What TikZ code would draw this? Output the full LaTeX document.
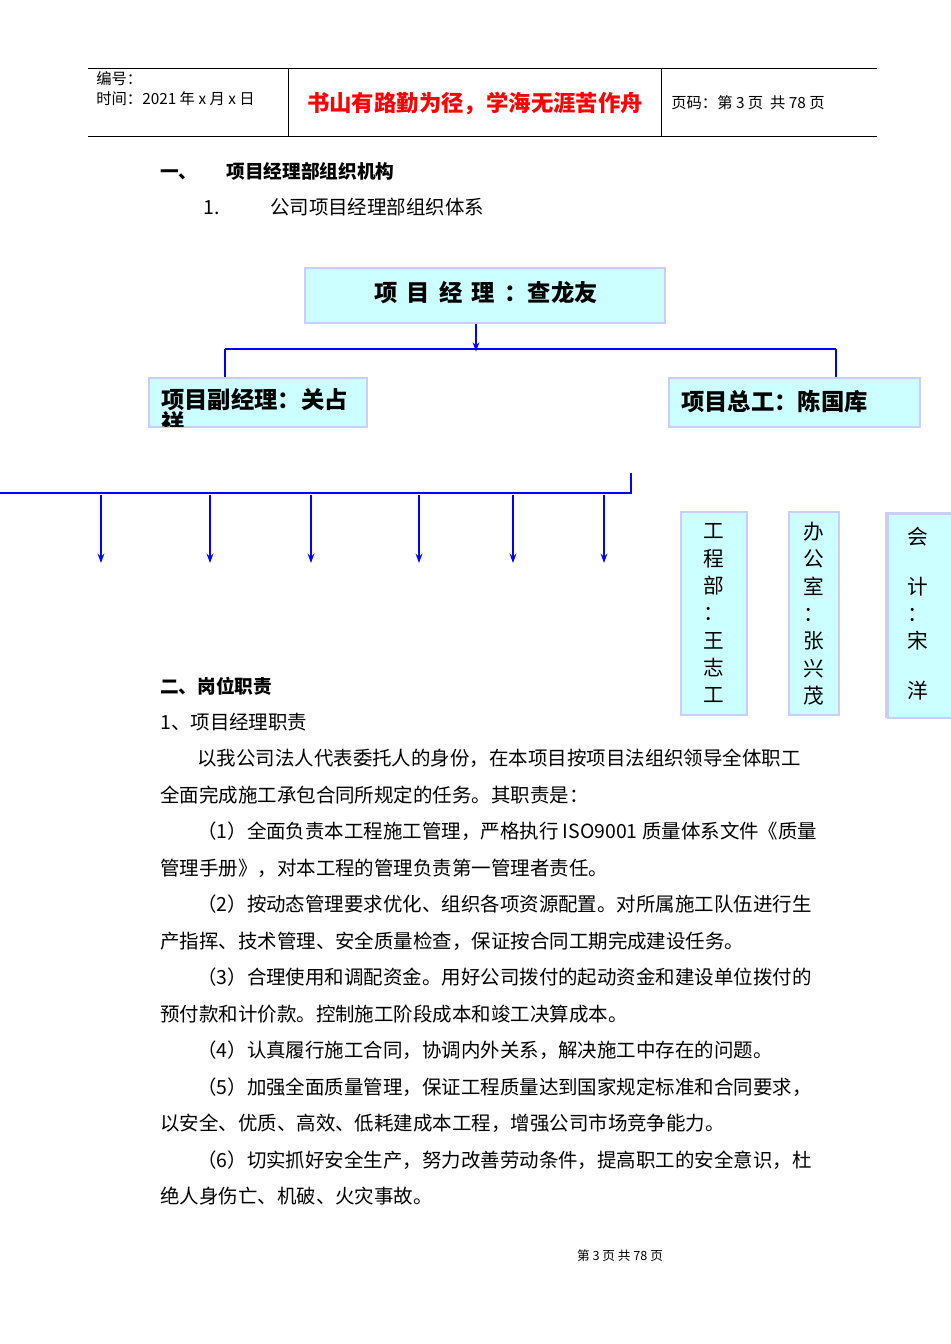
\documentclass[tikz,border=0pt]{standalone}
\usepackage{fontspec}
\setmainfont{Liberation Sans}
\newfontfamily\cjk{Noto Sans CJK SC}
\usetikzlibrary{arrows.meta}
\definecolor{boxfill}{HTML}{CCFFFF}
\definecolor{boxline}{HTML}{CCCCFF}
\definecolor{lineblue}{HTML}{0000FF}
\begin{document}
\begin{tikzpicture}[x=0.75pt,y=-0.75pt,
  orgbox/.style={draw=boxline,fill=boxfill,line width=0.8pt},
  conn/.style={draw=lineblue,line width=1.5pt},
  arr/.style={draw=lineblue,line width=1.2pt,-{Stealth[open,length=7pt,width=5pt]}},
  body/.style={anchor=west,inner sep=0,font=\cjk\fontsize{14.6}{15}\selectfont},
  vtxt/.style={font=\cjk\fontsize{15.5}{16}\selectfont,inner sep=0}]
\useasboundingbox (0,0) rectangle (950,1344);
\fill[white] (0,0) rectangle (950,1344);
% header
\draw[line width=0.6pt] (88,68) -- (877,68) (88,136) -- (877,136) (288,68) -- (288,136) (661,68) -- (661,136);
\node[anchor=west,inner sep=0,font=\cjk\fontsize{11.5}{12}\selectfont] (bh) at (96,79) {编号：};
\node[anchor=west,inner sep=0,font=\cjk\fontsize{11.5}{12}\selectfont] (sj) at (96,99) {时间：2021 年 x 月 x 日};
\node[inner sep=0,text=red,font=\cjk\bfseries\fontsize{16.8}{17}\selectfont] (tt) at (475,104) {书山有路勤为径，学海无涯苦作舟};
\node[anchor=west,inner sep=0,font=\cjk\fontsize{11.5}{12}\selectfont] (ym) at (671,103) {页码：第 3 页\ \ 共 78 页};
% headings
\node[body,font=\cjk\bfseries\fontsize{14}{15}\selectfont] (h1) at (160,171) {一、\hspace{1.55em}项目经理部组织机构};
\node[body] (h2) at (203,207) {1.\hspace{2.6em}公司项目经理部组织体系};
% chart
\node[orgbox,minimum width=270pt,minimum height=41.25pt] (pm) at (485,295.5) {};
\node[font=\cjk\bfseries\fontsize{17.5}{18}\selectfont] (pmt) at (486,293) {项\ \,目\ \,经\ \,理\ \,：查龙友};
\node[orgbox,minimum width=163.5pt,minimum height=36.75pt] (dep) at (258,402.5) {};
\begin{scope}
\clip (150,379) rectangle (366,426);
\node[anchor=north west,align=left,inner sep=0,font=\cjk\bfseries\fontsize{17.5}{22}\selectfont] (dept) at (161,388) {项目副经理：关占\\[-5pt]祥};
\end{scope}
\node[orgbox,minimum width=188.25pt,minimum height=36.75pt] (eng) at (794.5,402.5) {};
\node[anchor=west,inner sep=0,font=\cjk\bfseries\fontsize{17.5}{18}\selectfont] (engt) at (681,402) {项目总工：陈国库};
\coordinate (jt) at (476,349);
\coordinate (jl) at (225,349);
\coordinate (jr) at (836,349);
\draw[conn] (jl) -- (jr);
\draw[conn] (jl) -- (jl |- dep.north);
\draw[conn] (jr) -- (jr |- eng.north);
\draw[arr] (pm.south -| jt) -- ([yshift=-2pt]jt);
% lower bus
\coordinate (b0) at (0,493);
\coordinate (b1) at (631,493);
\coordinate (b2) at (631,473);
\draw[conn] (b0) -- (b1) -- (b2);
\foreach \x/\n in {101/a,210/b,311/c,419/d,513/e,604/f}{
  \coordinate (s\n) at (\x,495);
  \coordinate (t\n) at (\x,563);
  \draw[arr] (s\n) -- (t\n);
}
% vertical boxes
\node[orgbox,minimum width=49.5pt,minimum height=152.25pt] (gc) at (714,613.5) {};
\node[vtxt,align=center] (gct) at (714,613.5) {工\\[4.5pt]程\\[4.5pt]部\\[4.5pt]：\\[4.5pt]王\\[4.5pt]志\\[4.5pt]工};
\node[orgbox,minimum width=37.5pt,minimum height=152.25pt] (bg) at (814,613.5) {};
\node[vtxt,align=center] (bgt) at (814,613.5) {办\\[4.5pt]公\\[4.5pt]室\\[4.5pt]：\\[4.5pt]张\\[4.5pt]兴\\[4.5pt]茂};
\node[orgbox,minimum width=48pt,minimum height=153pt] (kj0) at (918,615) {};
\node[orgbox,minimum width=48pt,minimum height=153pt] (kj) at (920,616) {};
\node[vtxt,align=center] (kjt) at (918,613.5) {会\\[21pt]计\\[4.5pt]：\\[4.5pt]宋\\[21pt]洋};
% section 2
\node[body,font=\cjk\bfseries\fontsize{14}{15}\selectfont] (s2) at (160,686) {二、岗位职责};
\node[body] (l1) at (160,722) {1、项目经理职责};
\node[body] (l2) at (197,758) {以我公司法人代表委托人的身份，在本项目按项目法组织领导全体职工};
\node[body] (l3) at (160,795) {全面完成施工承包合同所规定的任务。其职责是：};
\node[body] (l4) at (197,831) {（1）全面负责本工程施工管理，严格执行 ISO9001 质量体系文件《质量};
\node[body] (l5) at (160,868) {管理手册》，对本工程的管理负责第一管理者责任。};
\node[body] (l6) at (197,904) {（2）按动态管理要求优化、组织各项资源配置。对所属施工队伍进行生};
\node[body] (l7) at (160,941) {产指挥、技术管理、安全质量检查，保证按合同工期完成建设任务。};
\node[body] (l8) at (197,977) {（3）合理使用和调配资金。用好公司拨付的起动资金和建设单位拨付的};
\node[body] (l9) at (160,1014) {预付款和计价款。控制施工阶段成本和竣工决算成本。};
\node[body] (l10) at (197,1050) {（4）认真履行施工合同，协调内外关系，解决施工中存在的问题。};
\node[body] (l11) at (197,1087) {（5）加强全面质量管理，保证工程质量达到国家规定标准和合同要求，};
\node[body] (l12) at (160,1123) {以安全、优质、高效、低耗建成本工程，增强公司市场竞争能力。};
\node[body] (l13) at (197,1160) {（6）切实抓好安全生产，努力改善劳动条件，提高职工的安全意识，杜};
\node[body] (l14) at (160,1196) {绝人身伤亡、机破、火灾事故。};
\node[inner sep=0,font=\cjk\fontsize{9.5}{10}\selectfont] (ft) at (620,1256) {第 3 页 共 78 页};
\end{tikzpicture}
\end{document}
